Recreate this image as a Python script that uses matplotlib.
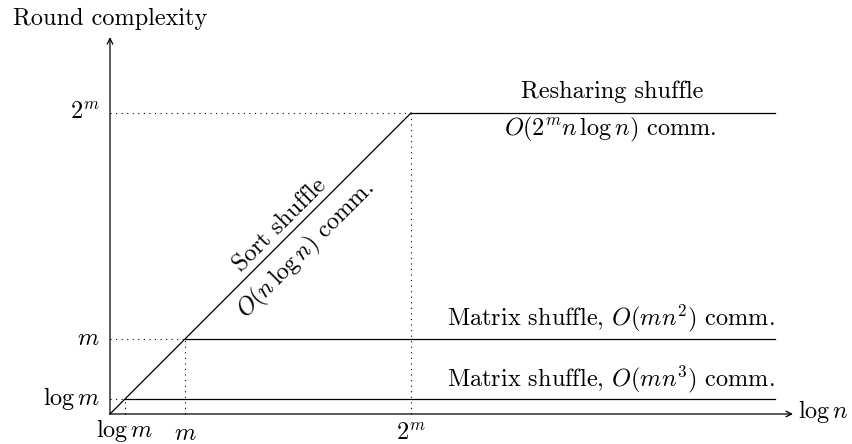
import matplotlib
matplotlib.use("Agg")
import matplotlib.pyplot as plt

plt.rcParams['font.family'] = ['cmr10', 'DejaVu Serif']
plt.rcParams['mathtext.fontset'] = 'cm'
plt.rcParams['axes.formatter.use_mathtext'] = True

# levels (in abstract units along both axes)
level_names = [r'$\log m$', r'$m$', r'$2^m$']
level_values = [0.5, 2.5, 10.0]

# series
sort_x = [0.0, 10.0]
sort_y = [0.0, 10.0]
resharing_x = [10.0, 22.09]
resharing_y = [10.0, 10.0]
matrix2_x = [2.5, 22.09]
matrix2_y = [2.5, 2.5]
matrix3_x = [0.5, 22.09]
matrix3_y = [0.5, 0.5]

x_axis_end = 22.69
y_axis_end = 12.52

FS = 17.5
fig = plt.figure(figsize=(8.52, 4.44), dpi=100)
ax = fig.add_axes([0, 0, 1, 1])
ax.set_xlim(-3.654, 24.651)
ax.set_ylim(-0.997, 13.754)
ax.axis('off')

lw = 0.9
# axes arrows
ax.annotate('', xy=(x_axis_end, 0), xytext=(0, 0),
            arrowprops=dict(arrowstyle='->,head_length=0.4,head_width=0.2', lw=lw, color='black', shrinkA=0, shrinkB=0))
ax.annotate('', xy=(0, y_axis_end), xytext=(0, 0),
            arrowprops=dict(arrowstyle='->,head_length=0.4,head_width=0.2', lw=lw, color='black', shrinkA=0, shrinkB=0))

# dotted guides
for v in level_values:
    ax.plot([0, v], [v, v], linestyle=(0, (1, 4)), color='black', lw=0.8)
    ax.plot([v, v], [0, v], linestyle=(0, (1, 4)), color='black', lw=0.8)

# series lines
ax.plot(sort_x, sort_y, color='black', lw=lw)
ax.plot(resharing_x, resharing_y, color='black', lw=lw)
ax.plot(matrix2_x, matrix2_y, color='black', lw=lw)
ax.plot(matrix3_x, matrix3_y, color='black', lw=lw)

# tick labels
x_label_tops = [-0.10, -0.30, -0.30]
for name, v, yt in zip(level_names, level_values, x_label_tops):
    ax.text(-0.33, v, name, ha='right', va='center', fontsize=FS)
    ax.text(v, yt, name, ha='center', va='top', fontsize=FS)

ax.text(-3.22, 12.92, 'Round complexity', ha='left', va='baseline', fontsize=FS)
ax.text(22.86, 0.07, r'$\log n$', ha='left', va='center', fontsize=FS)

ax.text(16.68, 10.50, 'Resharing shuffle', ha='center', va='baseline', fontsize=FS)
ax.text(16.63, 9.24, r'$O(2^m n\,\log n)$ comm.', ha='center', va='baseline', fontsize=FS)
ax.text(22.09, 2.96, r'Matrix shuffle, $O(mn^2)$ comm.', ha='right', va='baseline', fontsize=FS)
ax.text(22.09, 0.93, r'Matrix shuffle, $O(mn^3)$ comm.', ha='right', va='baseline', fontsize=FS)
ax.text(5.65, 6.28, 'Sort shuffle', ha='center', va='center', rotation=45,
        rotation_mode='anchor', fontsize=FS)
ax.text(6.51, 5.45, r'$O(n\,\log n)$ comm.', ha='center', va='center', rotation=45,
        rotation_mode='anchor', fontsize=FS)

fig.savefig('out.png', dpi=100)
